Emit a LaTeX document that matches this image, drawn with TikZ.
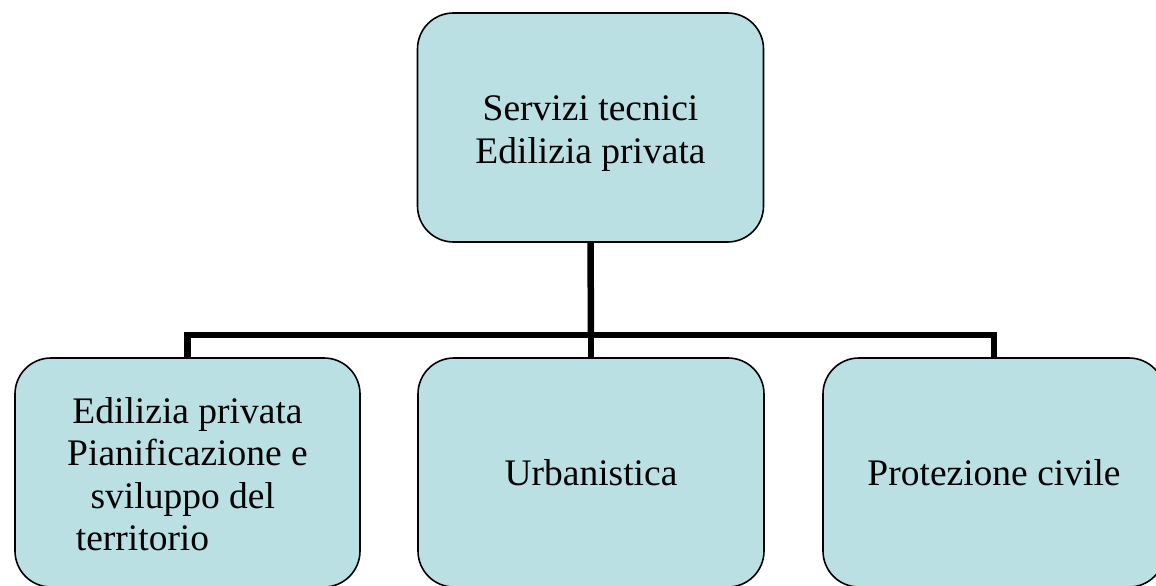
\documentclass[tikz,border=0pt]{standalone}
\usepackage{fontspec}
\setmainfont{Liberation Serif}
\definecolor{boxfill}{HTML}{BBE0E3}
\newcommand{\boxtext}[2]{\raisebox{0pt}[\dimexpr\height+#1pt\relax]{\begin{tabular}{@{}c@{}}#2\end{tabular}}}
\begin{document}
\begin{tikzpicture}[x=1pt,y=-1pt,
  orgbox/.style={draw=black, line width=1.6pt, fill=boxfill, rounded corners=36pt,
    minimum height=229pt, align=center, inner sep=0pt,
    font=\fontsize{37.5}{42.5}\selectfont},
  link/.style={line width=6.5pt, line join=miter, draw=black}]
\useasboundingbox (0,0) rectangle (1156,586);
\node[orgbox, minimum width=346pt] (top) at (590.5,127.5) {\boxtext{12}{Servizi tecnici\\Edilizia privata}};
\node[orgbox, minimum width=345pt] (left) at (187.5,472.5) {\boxtext{12}{Edilizia privata\\Pianificazione e\\sviluppo del\hspace*{0.25em}\\territorio\hspace*{90pt}}};
\node[orgbox, minimum width=346pt] (mid) at (591,472.5) {\boxtext{8}{Urbanistica}};
\node[orgbox, minimum width=342pt] (right) at (994,472.5) {\boxtext{8}{Protezione civile}};
\coordinate (bar) at (591,335);
\draw[link] (top.south) -- (bar);
\draw[link] (left.north) |- (bar) -| (right.north);
\draw[link] (bar) -- (mid.north);
\end{tikzpicture}
\end{document}
